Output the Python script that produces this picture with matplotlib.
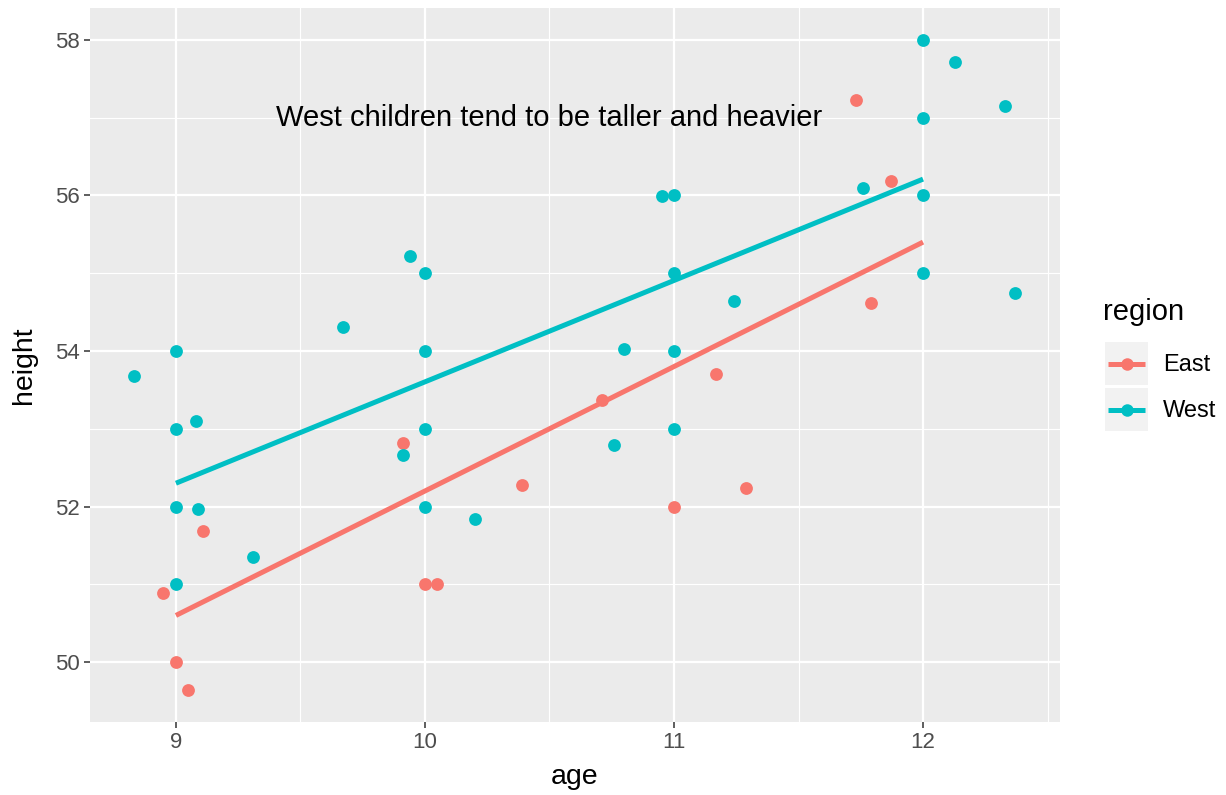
import numpy as np
import matplotlib
matplotlib.use("Agg")
import matplotlib.pyplot as plt
from matplotlib.patches import Rectangle
from matplotlib.lines import Line2D

plt.rcParams["font.family"] = ["Liberation Sans", "DejaVu Sans"]

# jittered observations per region
west_age = [8.83, 9.00, 9.00, 9.08, 9.00, 9.09, 9.00, 9.31, 9.67, 9.94, 10.00, 10.00,
            10.00, 9.91, 10.00, 10.20, 10.80, 10.76, 10.95, 11.00, 11.00, 11.00, 11.00,
            11.24, 11.76, 12.00, 12.00, 12.00, 12.00, 12.13, 12.33, 12.37]
west_height = [53.68, 54.00, 53.00, 53.10, 52.00, 51.97, 51.00, 51.35, 54.31, 55.22, 55.00, 54.00,
               53.00, 52.66, 52.00, 51.84, 54.02, 52.79, 55.99, 56.00, 55.00, 54.00, 53.00,
               54.64, 56.10, 58.00, 57.00, 56.00, 55.00, 57.72, 57.15, 54.75]
east_age = [8.95, 9.00, 9.05, 9.11, 9.91, 10.00, 10.05, 10.39, 10.71, 11.00, 11.17, 11.29,
            11.73, 11.79, 11.87]
east_height = [50.89, 50.00, 49.64, 51.68, 52.82, 51.00, 51.01, 52.28, 53.37, 52.00, 53.70, 52.24,
               57.23, 54.62, 56.19]

# linear fit per region, evaluated at the ends of the age range
fit_age = [9, 12]
west_fit = [52.30, 56.21]
east_fit = [50.60, 55.40]

regions = ["East", "West"]
colors = {"East": "#F8766D", "West": "#00BFC4"}
note = "West children tend to be taller and heavier"

fig = plt.figure(figsize=(12.26, 7.95), dpi=100)
ax = fig.add_axes([90 / 1226, 1 - 722 / 795, 970 / 1226, 714 / 795])
ax.set_facecolor("#EBEBEB")

ax.set_xlim(8.655, 12.55)
ax.set_ylim(49.23, 58.41)
ax.set_xticks([9, 10, 11, 12])
ax.set_yticks([50, 52, 54, 56, 58])
ax.set_xticks([9.5, 10.5, 11.5, 12.5], minor=True)
ax.set_yticks([51, 53, 55, 57], minor=True)
ax.grid(which="major", color="white", lw=1.6)
ax.grid(which="minor", color="white", lw=0.8)
ax.set_axisbelow(True)
for s in ax.spines.values():
    s.set_visible(False)
ax.tick_params(which="major", length=4.5, width=1.1, color="#333333",
               labelsize=16, labelcolor="#4D4D4D", pad=3)
ax.tick_params(which="minor", length=0)
ax.set_xlabel("age", fontsize=20.5, labelpad=7.5)
ax.set_ylabel("height", fontsize=20.5, labelpad=12.5)

pts = {"East": (east_age, east_height), "West": (west_age, west_height)}
fits = {"East": east_fit, "West": west_fit}
for r in regions:
    ax.scatter(*pts[r], s=85, color=colors[r], lw=0, zorder=3)
for r in regions:
    ax.plot(fit_age, fits[r], color=colors[r], lw=3.6, solid_capstyle="butt", zorder=4)

ax.text(10.5, 57.0, note, fontsize=21, ha="center", va="center")

# legend drawn by hand in figure pixels
def fx(px):
    return px / 1226

def fy(py):
    return 1 - py / 795

fig.text(fx(1103), fy(312), "region", fontsize=21, va="center", ha="left")
for i, r in enumerate(regions):
    top = 342 + i * 46
    fig.patches.append(Rectangle((fx(1105), fy(top + 43)), 43 / 1226, 43 / 795,
                                 transform=fig.transFigure, facecolor="#F2F2F2",
                                 edgecolor="none"))
    cy = fy(top + 21.5)
    fig.lines.append(Line2D([fx(1108), fx(1145)], [cy, cy], transform=fig.transFigure,
                            color=colors[r], lw=3.6, solid_capstyle="butt"))
    fig.lines.append(Line2D([fx(1126.5)], [cy], transform=fig.transFigure, marker="o",
                            markersize=9, color=colors[r], markeredgewidth=0))
    fig.text(fx(1163), fy(top + 23), r, fontsize=17, va="center", ha="left")

fig.savefig("out.png", dpi=100)
